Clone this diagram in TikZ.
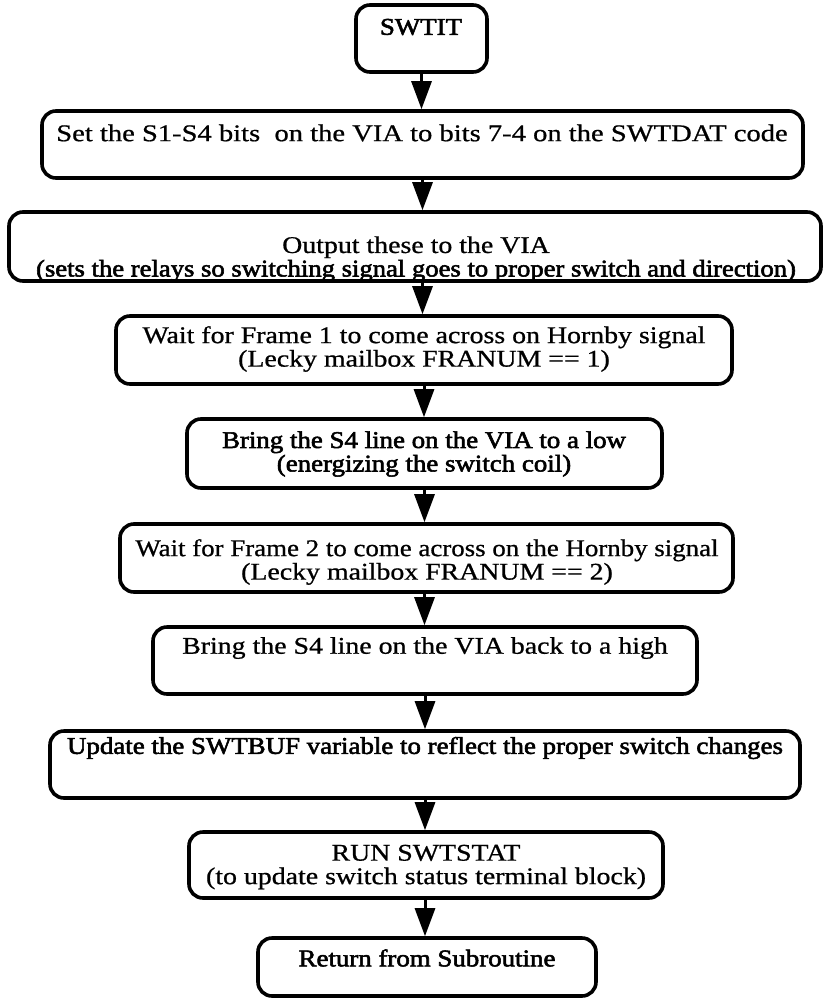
\documentclass[tikz,border=0pt]{standalone}
\usepackage{fontspec}
\setmainfont{Liberation Serif}
\newfontfamily\scan{Liberation Serif}[FakeBold=0.7]
\newfontfamily\scanb{Liberation Serif}[FakeBold=2.2]
\usetikzlibrary{arrows.meta}
\newcommand{\Tx}[2][1.16]{\scalebox{#1}[1]{#2}}
\begin{document}
\begin{tikzpicture}[x=1pt,y=-1pt,
  box/.style={draw, line width=3.6pt, rounded corners=14pt, inner sep=0pt},
  lbl/.style={inner sep=0pt, font=\fontsize{24}{23.5}\selectfont\scan, align=center},
  arr/.style={line width=3pt, -{Triangle[length=28pt,width=20pt]}}]
\useasboundingbox (0,0) rectangle (824,999);
% boxes
\node[box, minimum width=131pt, minimum height=67pt] (b1) at (421.5,38.5) {};
\node[box, minimum width=761pt, minimum height=67pt] (b2) at (422.5,144.5) {};
\node[box, minimum width=812pt, minimum height=69pt] (b3) at (415,246.5) {};
\node[box, minimum width=616pt, minimum height=68pt] (b4) at (424,350) {};
\node[box, minimum width=475pt, minimum height=69pt] (b5) at (424.5,453.5) {};
\node[box, minimum width=613pt, minimum height=68pt] (b6) at (426.5,558) {};
\node[box, minimum width=544pt, minimum height=67pt] (b7) at (425,660.5) {};
\node[box, minimum width=750pt, minimum height=67pt] (b8) at (425,764.5) {};
\node[box, minimum width=474pt, minimum height=66pt] (b9) at (426,865) {};
\node[box, minimum width=338pt, minimum height=58pt] (b10) at (427,967) {};
% texts
\node[lbl] (t1) at (421,27) {\Tx[1.12]{\scanb SWTIT}};
\node[lbl] (t2) at (422,133) {\Tx[1.19]{Set the S1-S4 bits\ \ on the VIA to bits 7-4 on the SWTDAT code}};
\node[lbl] (t3) at (416,259) {\Tx{Output these to the VIA}\\\Tx[1.11]{\scanb (sets the relays so switching signal goes to proper switch and direction)}};
\node[lbl] (t4) at (424,349) {\Tx{Wait for Frame 1 to come across on Hornby signal}\\\Tx{(Lecky mailbox FRANUM == 1)}};
\node[lbl] (t5) at (424,454) {\Tx[1.12]{\scanb Bring the S4 line on the VIA to a low}\\\Tx[1.12]{\scanb (energizing the switch coil)}};
\node[lbl] (t6) at (427,562) {\Tx[1.12]{Wait for Frame 2 to come across on the Hornby signal}\\\Tx{(Lecky mailbox FRANUM == 2)}};
\node[lbl] (t7) at (425,648) {\Tx{Bring the S4 line on the VIA back to a high}};
\node[lbl] (t8) at (425,748) {\Tx[1.12]{\scanb Update the SWTBUF variable to reflect the proper switch changes}};
\node[lbl] (t9) at (426,867) {\Tx{RUN SWTSTAT}\\\Tx{(to update switch status terminal block)}};
\node[lbl] (t10) at (427,958) {\Tx[1.12]{\scanb Return from Subroutine}};
% connectors
\draw[arr] (b1.south) -- (b1.south |- b2.north);
\draw[arr] (b2.south) -- (b2.south |- b3.north);
\draw[arr] (b2.south |- b3.south) -- (b2.south |- b4.north);
\draw[arr] (b4.south) -- (b4.south |- b5.north);
\draw[arr] (b5.south) -- (b5.south |- b6.north);
\draw[arr] (b5.south |- b6.south) -- (b5.south |- b7.north);
\draw[arr] (b7.south) -- (b7.south |- b8.north);
\draw[arr] (b8.south) -- (b8.south |- b9.north);
\draw[arr] (b8.south |- b9.south) -- (b8.south |- b10.north);
\end{tikzpicture}
\end{document}
